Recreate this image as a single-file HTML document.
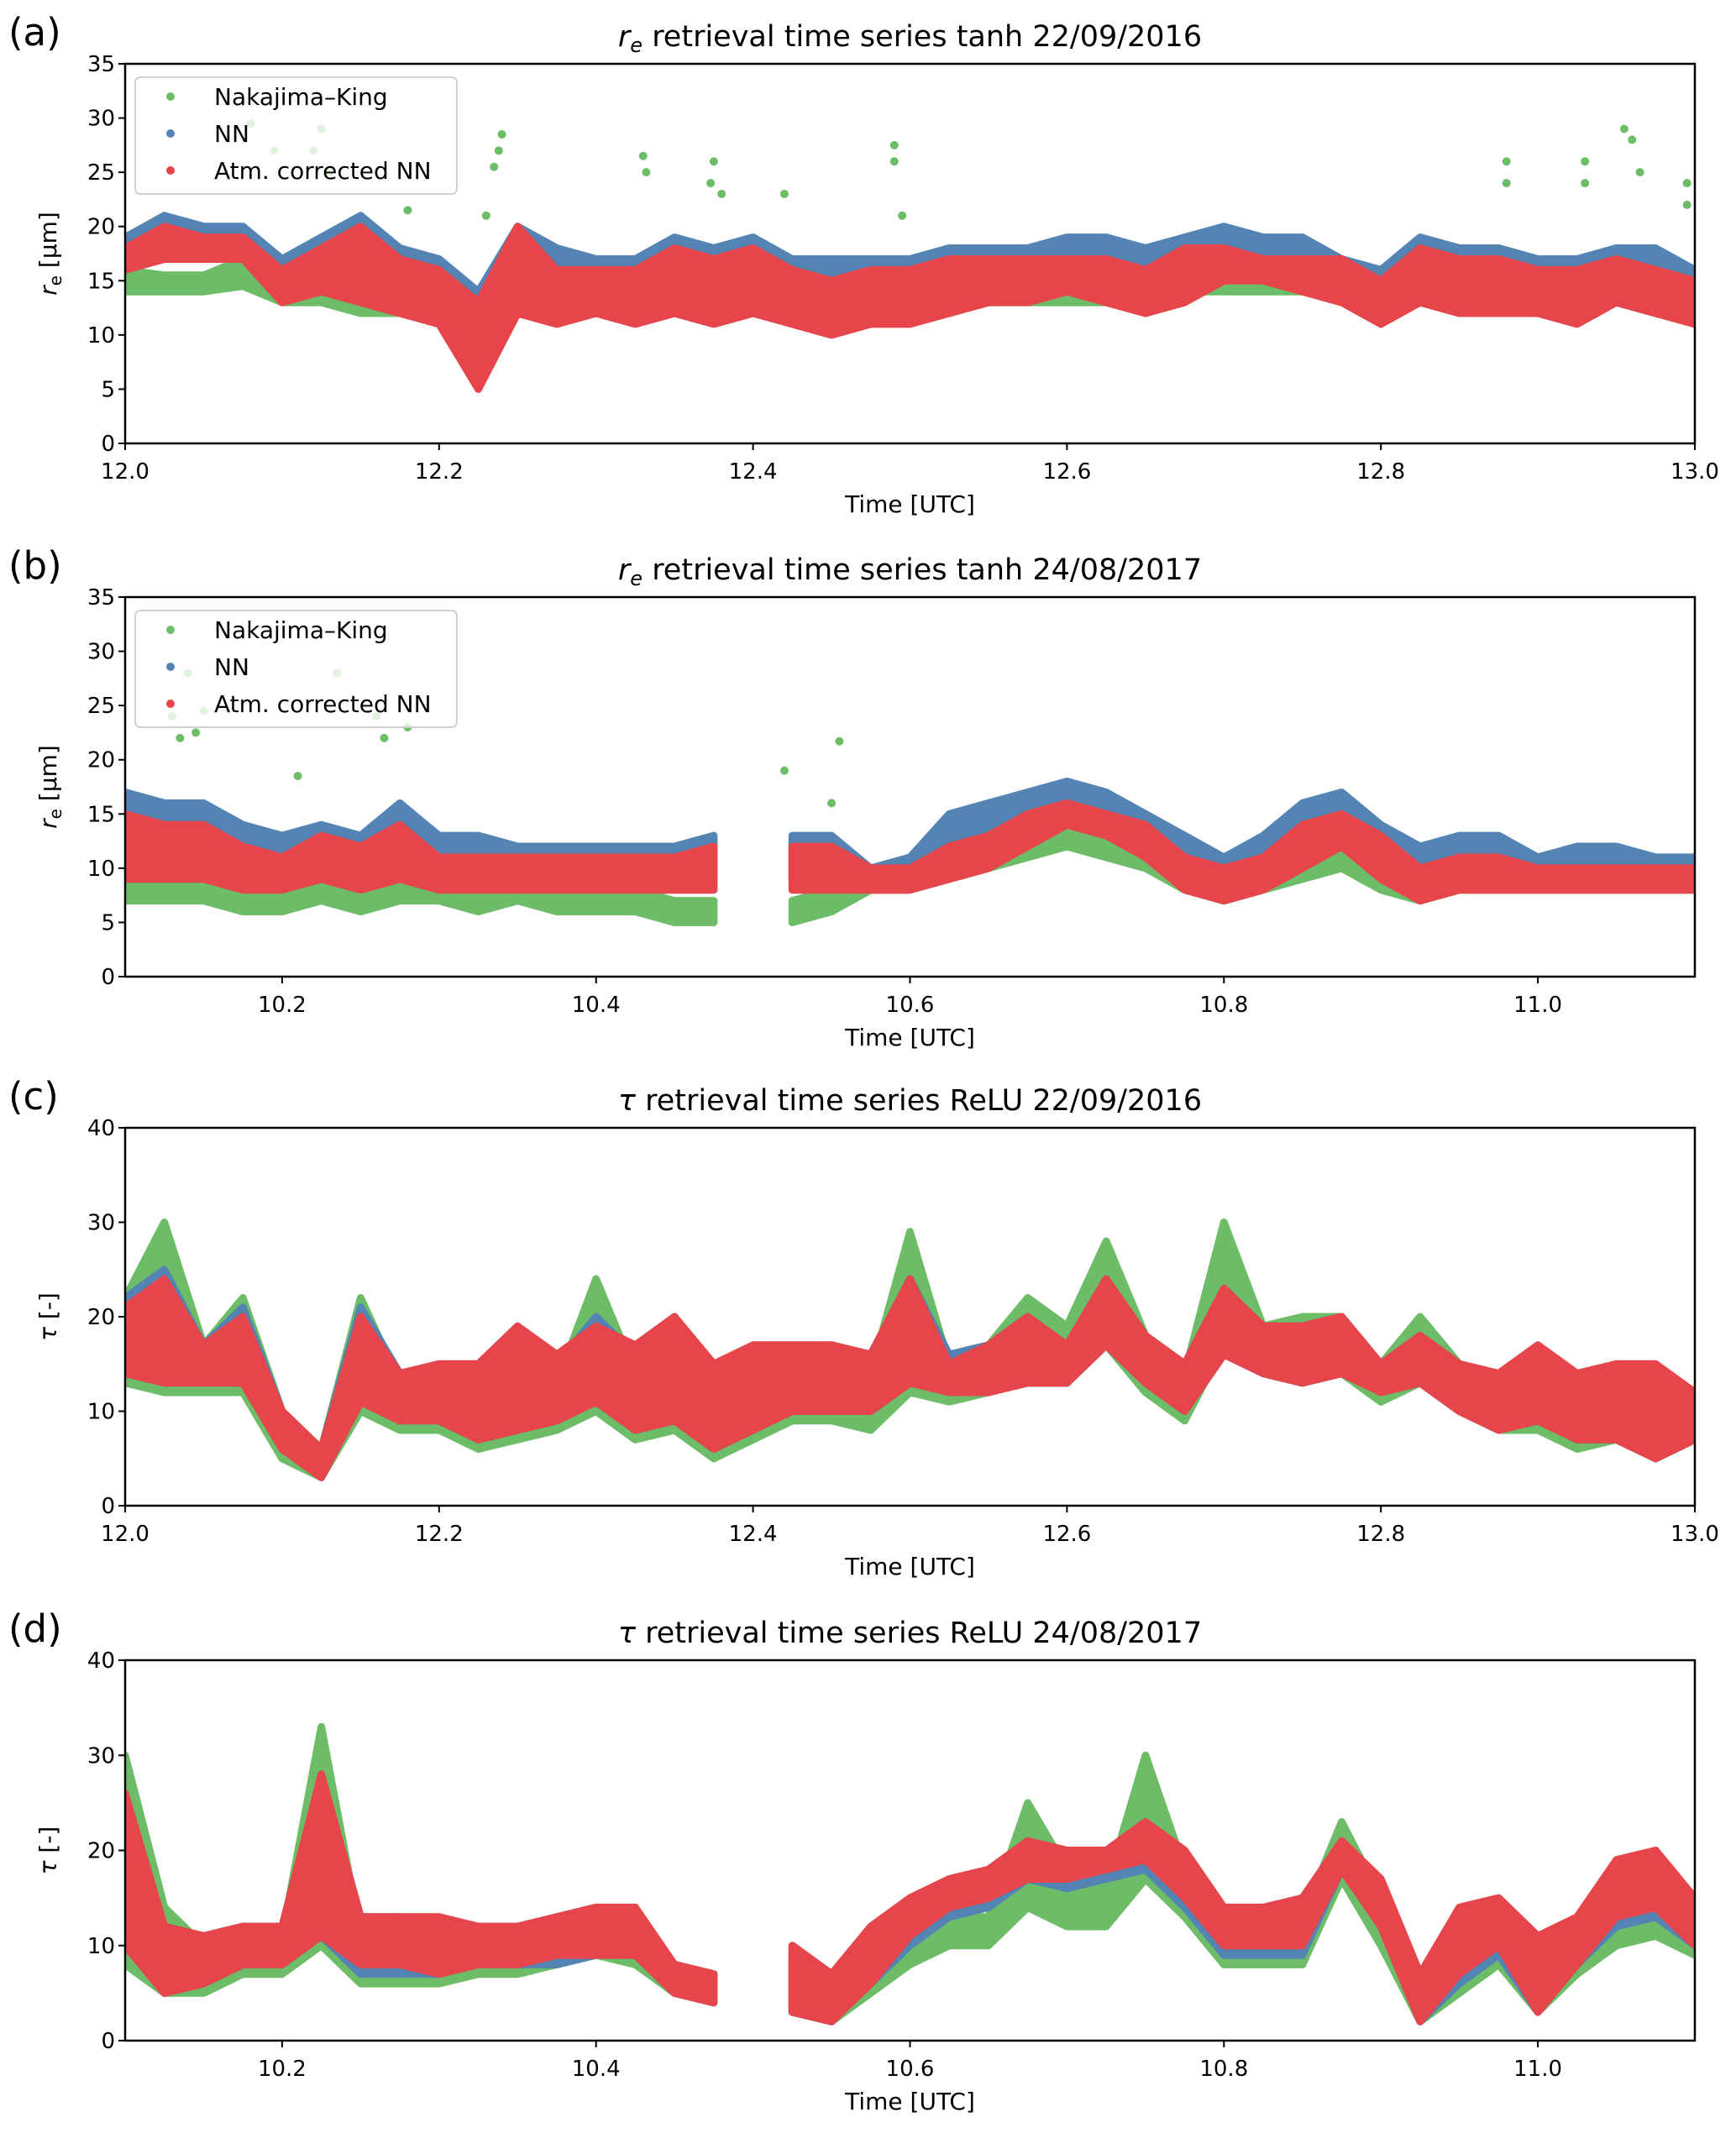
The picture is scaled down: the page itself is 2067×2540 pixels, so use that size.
<!DOCTYPE html>
<html><head><meta charset="utf-8"><style>
html,body{margin:0;padding:0;background:#fff;}
svg text{font-family:"DejaVu Sans","Liberation Sans",sans-serif;fill:#000;}
</style></head><body>
<svg id="fig" width="2067" height="2535" viewBox="0 0 2067 2535" xmlns="http://www.w3.org/2000/svg"></svg>
<script>
// ---------- data ----------
const timesA = [12.0,12.025,12.05,12.075,12.1,12.125,12.15,12.175,12.2,12.225,12.25,12.275,12.3,12.325,12.35,12.375,12.4,12.425,12.45,12.475,12.5,12.525,12.55,12.575,12.6,12.625,12.65,12.675,12.7,12.725,12.75,12.775,12.8,12.825,12.85,12.875,12.9,12.925,12.95,12.975,13.0];
const timesB = [10.1,10.125,10.15,10.175,10.2,10.225,10.25,10.275,10.3,10.325,10.35,10.375,10.4,10.425,10.45,10.475,10.5,10.525,10.55,10.575,10.6,10.625,10.65,10.675,10.7,10.725,10.75,10.775,10.8,10.825,10.85,10.875,10.9,10.925,10.95,10.975,11.0,11.025,11.05,11.075,11.1];

// panel (a) r_e 22/09/2016
const aGreenLo = [14,14,14,14.5,13,13,12,12,12,6,13,12,12,12,12,12,12,12,11,11,12,12,13,13,13,13,13,14,14,14,14,13,12,13,13,12,12,12,13,12,11];
const aGreenHi = [16,15.5,15.5,17,16,17,15,15,15,13,16,14,15,15,15,15,15,14,14,14,14,15,15,15,15,16,15,16,16,16,17,16,15,16,16,14,15,14,15,15,14];
const aBlueLo = [16,18,18,17,14,15,15,14,12,6,14,13,13,13,14,13,13,13,11,12,12,13,14,14,14,15,14,15,16,16,15,13,12,14,14,13,14,13,14,14,13];
const aBlueHi = [19,21,20,20,17,19,21,18,17,14,20,18,17,17,19,18,19,17,17,17,17,18,18,18,19,19,18,19,20,19,19,17,16,19,18,18,17,17,18,18,16];
const aRedLo = [16,17,17,17,13,14,13,12,11,5,12,11,12,11,12,11,12,11,10,11,11,12,13,13,14,13,12,13,15,15,14,13,11,13,12,12,12,11,13,12,11];
const aRedHi = [18,20,19,19,16,18,20,17,16,13,20,16,16,16,18,17,18,16,15,16,16,17,17,17,17,17,16,18,18,17,17,17,15,18,17,17,16,16,17,16,15];
const aOutT = [12.08,12.095,12.12,12.125,12.13,12.24,12.238,12.235,12.33,12.332,12.375,12.373,12.38,12.42,12.49,12.49,12.495,12.88,12.88,12.93,12.93,12.955,12.96,12.965,12.995,12.995,12.23,12.18];
const aOutV = [29.5,27,27,29,25,28.5,27,25.5,26.5,25,26,24,23,23,27.5,26,21,26,24,26,24,29,28,25,24,22,21,21.5];

// panel (b) r_e 24/08/2017
const bGreenLo = [7,7,7,6,6,7,6,7,7,6,7,6,6,6,5,5,null,5,6,8,8,9,10,11,12,11,10,8,7,8,9,10,8,7,8,8,8,8,8,8,8];
const bGreenHi = [11,10,12,9,9,10,9,12,9,9,9,9,8,8,7,7,null,7,8,10,10,12,12,13,14,13,12,11,10,11,12,12,11,10,11,11,10,10,10,10,10];
const bBlueLo = [10,11,11,10,10,10,10,11,10,9,9,9,9,9,9,9,null,9,9,8,9,11,13,15,16,15,12,9,8,9,12,14,10,8,9,10,9,9,9,9,9];
const bBlueHi = [17,16,16,14,13,14,13,16,13,13,12,12,12,12,12,13,null,13,13,10,11,15,16,17,18,17,15,13,11,13,16,17,14,12,13,13,11,12,12,11,11];
const bRedLo = [9,9,9,8,8,9,8,9,8,8,8,8,8,8,8,8,null,8,8,8,8,9,10,12,14,13,11,8,7,8,10,12,9,7,8,8,8,8,8,8,8];
const bRedHi = [15,14,14,12,11,13,12,14,11,11,11,11,11,11,11,12,null,12,12,10,10,12,13,15,16,15,14,11,10,11,14,15,13,10,11,11,10,10,10,10,10];
const bOutT = [10.13,10.135,10.14,10.145,10.15,10.21,10.235,10.26,10.265,10.28,10.52,10.555,10.55];
const bOutV = [24,22,28,22.5,24.5,18.5,28,24,22,23,19,21.7,16];

// panel (c) tau 22/09/2016
const cGreenLo = [13,12,12,12,5,3,10,8,8,6,7,8,10,7,8,5,7,9,9,8,12,11,12,13,13,17,12,9,17,14,13,14,11,13,10,8,8,6,7,5,7];
const cGreenHi = [22,30,17,22,10,6,22,13,14,12,14,13,24,14,20,12,13,15,16,14,29,15,17,22,19,28,18,14,30,19,20,20,15,20,15,13,17,12,15,13,12];
const cBlueLo = [14,13,13,13,6,3,11,9,9,7,8,9,11,8,9,6,8,10,10,10,13,12,13,13,13,17,13,10,16,14,13,14,12,13,10,8,9,7,7,5,7];
const cBlueHi = [22,25,17,21,10,6,21,14,15,14,18,15,20,16,20,14,16,16,17,16,24,16,17,20,17,24,18,15,23,19,19,20,15,18,15,13,17,13,15,14,12];
const cRedLo = [14,13,13,13,6,3,11,9,9,7,8,9,11,8,9,6,8,10,10,10,13,12,12,13,13,17,13,10,16,14,13,14,12,13,10,8,9,7,7,5,7];
const cRedHi = [21,24,17,20,10,6,20,14,15,15,19,16,19,17,20,15,17,17,17,16,24,15,17,20,17,24,18,15,23,19,19,20,15,18,15,14,17,14,15,15,12];

// panel (d) tau 24/08/2017
const dGreenLo = [8,5,5,7,7,10,6,6,6,7,7,8,9,8,5,4,null,3,2,5,8,10,10,14,12,12,17,13,8,8,8,17,10,2,5,8,3,7,10,11,9];
const dGreenHi = [30,14,10,11,11,33,11,11,11,11,11,12,13,12,7,6,null,9,6,10,11,13,13,25,18,16,30,18,12,12,13,23,15,5,10,12,9,11,16,15,12];
const dBlueLo = [10,5,6,8,8,11,7,7,7,8,8,8,9,9,5,4,null,3,2,6,10,13,14,17,16,17,18,14,9,9,9,18,12,2,6,9,3,8,12,13,10];
const dBlueHi = [25,12,11,12,12,27,13,13,12,12,12,13,14,13,8,7,null,10,7,11,14,16,17,20,19,19,22,19,13,14,14,21,16,6,12,14,11,12,18,19,14];
const dRedLo = [10,5,6,8,8,11,8,8,7,8,8,9,9,9,5,4,null,3,2,6,11,14,15,17,17,18,19,15,10,10,10,18,12,2,7,10,3,8,13,14,10];
const dRedHi = [26,12,11,12,12,28,13,13,13,12,12,13,14,14,8,7,null,10,7,12,15,17,18,21,20,20,23,20,14,14,15,21,17,7,14,15,11,13,19,20,15];

const xTicksA = [12.0,12.2,12.4,12.6,12.8,13.0];
const xTicksB = [10.2,10.4,10.6,10.8,11.0];
const yTicksRe = [0,5,10,15,20,25,30,35];
const yTicksTau = [0,10,20,30,40];

// ---------- drawing ----------
const NS = "http://www.w3.org/2000/svg";
const svg = document.getElementById("fig");
const COL = {g:"#6dbd68", b:"#5384b3", r:"#e6454b"};
const L = 149, R = 2018;
function mk(tag, attrs, parent){ const e=document.createElementNS(NS,tag); for(const k in attrs) e.setAttribute(k,attrs[k]); (parent||svg).appendChild(e); return e; }
function fmt(v){ return v.toFixed(1); }

const panels = [
 {id:"a", top:76, bot:528, x0:12.0, x1:13.0, y1:35, t:timesA, xt:xTicksA, yt:yTicksRe, title:"retrieval time series tanh 22/09/2016", re:true, legend:true,
  series:[["g",aGreenLo,aGreenHi],["b",aBlueLo,aBlueHi],["r",aRedLo,aRedHi]], outT:aOutT, outV:aOutV},
 {id:"b", top:711, bot:1163, x0:10.1, x1:11.1, y1:35, t:timesB, xt:xTicksB, yt:yTicksRe, title:"retrieval time series tanh 24/08/2017", re:true, legend:true,
  series:[["g",bGreenLo,bGreenHi],["b",bBlueLo,bBlueHi],["r",bRedLo,bRedHi]], outT:bOutT, outV:bOutV},
 {id:"c", top:1343, bot:1793, x0:12.0, x1:13.0, y1:40, t:timesA, xt:xTicksA, yt:yTicksTau, title:"retrieval time series ReLU 22/09/2016", re:false, legend:false,
  series:[["g",cGreenLo,cGreenHi],["b",cBlueLo,cBlueHi],["r",cRedLo,cRedHi]], outT:[], outV:[]},
 {id:"d", top:1977, bot:2430, x0:10.1, x1:11.1, y1:40, t:timesB, xt:xTicksB, yt:yTicksTau, title:"retrieval time series ReLU 24/08/2017", re:false, legend:false,
  series:[["g",dGreenLo,dGreenHi],["b",dBlueLo,dBlueHi],["r",dRedLo,dRedHi]], outT:[], outV:[]}
];
const names = {g:"nakajima-king", b:"nn", r:"atm-corrected-nn"};

panels.forEach(p=>{
  const xs = v => L + (v - p.x0)/(p.x1 - p.x0)*(R-L);
  const ys = v => p.bot - v/p.y1*(p.bot - p.top);
  const g = mk("g",{});
  
  
  const cp = mk("clipPath",{id:"clip"+p.id},g);
  mk("rect",{x:L,y:p.top,width:R-L,height:p.bot-p.top},cp);
  const data = mk("g",{"clip-path":"url(#clip"+p.id+")"},g);
  p.series.forEach(([c,lo,hi])=>{
    const segs=[]; let cur=[];
    p.t.forEach((t,i)=>{ if(lo[i]==null){ if(cur.length) segs.push(cur); cur=[]; } else cur.push(i); });
    if(cur.length) segs.push(cur);
    segs.forEach(seg=>{
      let pts=seg.map(i=>xs(p.t[i]).toFixed(1)+","+ys(hi[i]).toFixed(1));
      pts=pts.concat(seg.slice().reverse().map(i=>xs(p.t[i]).toFixed(1)+","+ys(lo[i]).toFixed(1)));
      const pg = mk("polygon",{points:pts.join(" "),fill:COL[c],stroke:COL[c],"stroke-width":9,"stroke-linejoin":"round"},data);
      
      
    });
  });
  p.outT.forEach((t,i)=>{
    const m = mk("circle",{cx:xs(t),cy:ys(p.outV[i]),r:5,fill:COL.g},data);
    
    
  });
  const fr = mk("rect",{x:L,y:p.top,width:R-L,height:p.bot-p.top,fill:"none",stroke:"#000","stroke-width":2.5},g);
  
  
  p.yt.forEach(v=>{
    mk("line",{x1:L-8,x2:L,y1:ys(v),y2:ys(v),stroke:"#000","stroke-width":2},g);
    const tx = mk("text",{x:L-12,y:ys(v)+9,"text-anchor":"end","font-size":26},g);
    tx.textContent = v;
    
    
  });
  p.xt.forEach(v=>{
    mk("line",{x1:xs(v),x2:xs(v),y1:p.bot,y2:p.bot+8,stroke:"#000","stroke-width":2},g);
    const tx = mk("text",{x:xs(v),y:p.bot+42,"text-anchor":"middle","font-size":26},g);
    tx.textContent = fmt(v);
    
    
  });
  const xl = mk("text",{x:(L+R)/2,y:p.bot+82,"text-anchor":"middle","font-size":28},g);
  xl.textContent = "Time [UTC]";
  
  
  const cy=(p.top+p.bot)/2;
  const yl = mk("text",{x:0,y:0,"text-anchor":"middle","font-size":28,transform:"translate(67,"+cy+") rotate(-90)"},g);
  if(p.re){ yl.innerHTML='<tspan font-style="italic">r</tspan><tspan font-size="20" dy="6">e</tspan><tspan dy="-6"> [μm]</tspan>'; }
  else { yl.innerHTML='<tspan font-style="italic">τ</tspan> [-]'; }
  
  
  const ti = mk("text",{x:(L+R)/2,y:p.top-21,"text-anchor":"middle","font-size":35},g);
  ti.innerHTML = (p.re ? '<tspan font-style="italic">r</tspan><tspan font-size="24" dy="7" font-style="italic">e</tspan><tspan dy="-7"> ' : '<tspan font-style="italic">τ</tspan><tspan> ') + p.title + '</tspan>';
  
  
  const pl = mk("text",{x:10,y:p.top-22,"font-size":45},g);
  pl.textContent = "("+p.id+")";
  
  
  if(p.legend){
    const lg = mk("g",{},g);
    
    
    mk("rect",{x:161,y:p.top+16,width:383,height:139,rx:6,fill:"#fff","fill-opacity":0.8,stroke:"#d0d0d0","stroke-width":2},lg);
    [["g","Nakajima–King"],["b","NN"],["r","Atm. corrected NN"]].forEach(([c,t],i)=>{
      const yy = p.top+39+i*44;
      const e = mk("g",{},lg);
      
      
      mk("circle",{cx:203,cy:yy,r:5,fill:COL[c]},e);
      const tx = mk("text",{x:255,y:yy+10,"font-size":28},e);
      tx.textContent = t;
    });
  }
});
</script>
</body></html>
